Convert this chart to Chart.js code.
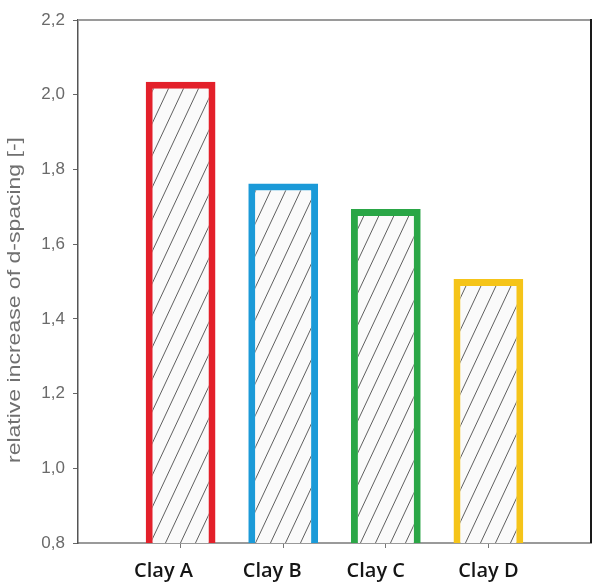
<!DOCTYPE html>
<html>
<head>
<meta charset="utf-8">
<title>Relative increase of d-spacing</title>
<script src="https://cdn.jsdelivr.net/npm/chart.js@4/dist/chart.umd.min.js"></script>
<style>
  html, body { margin: 0; padding: 0; background: #ffffff; }
  canvas { display: block; }
</style>
</head>
<body>
<canvas id="chart" width="594" height="583"></canvas>
<script>
// Samples and their measured relative increase of the basal d-spacing
const categories = ['Clay A', 'Clay B', 'Clay C', 'Clay D'];
const values = [2.035, 1.762, 1.694, 1.507];
const outlineColors = ['#e3202a', '#1b9ad8', '#2aa646', '#f5c419'];

// y axis range and step
const yMin = 0.8;
const yMax = 2.2;
const yStep = 0.2;

const canvas = document.getElementById('chart');
const ctx = canvas.getContext('2d');

// Diagonal hatching used to fill each bar
function makeHatch(context) {
  const w = 15, h = 32;
  const tile = document.createElement('canvas');
  tile.width = w;
  tile.height = h;
  const t = tile.getContext('2d');
  t.fillStyle = '#fafafa';
  t.fillRect(0, 0, w, h);
  t.strokeStyle = '#606060';
  t.lineWidth = 1;
  for (const k of [-1, 0, 1]) {
    t.beginPath();
    t.moveTo(k * w - w, 2 * h);
    t.lineTo(k * w + 2 * w, -h);
    t.stroke();
  }
  return context.createPattern(tile, 'repeat');
}
const hatch = makeHatch(ctx);

// Empty slots at both ends keep the bars away from the plot edges
const labels = [''].concat(categories, ['']);
const data = [null].concat(values, [null]);
const borders = ['#000'].concat(outlineColors, ['#000']);

// Horizontal nudge of each category caption relative to its tick (px)
const captionNudge = [-17, -11, -10, 0];

// Frame lines, category captions and the rotated y-axis caption
const framePlugin = {
  id: 'frame',
  afterDraw(chart) {
    const { ctx, chartArea } = chart;
    const xScale = chart.scales.x;
    ctx.save();
    ctx.strokeStyle = '#9a9a9a';
    ctx.lineWidth = 2;
    ctx.beginPath();
    ctx.moveTo(chartArea.left, chartArea.top);
    ctx.lineTo(chartArea.right, chartArea.top);
    ctx.stroke();
    ctx.strokeStyle = '#1a1a1a';
    ctx.beginPath();
    ctx.moveTo(chartArea.right, chartArea.top - 1);
    ctx.lineTo(chartArea.right, chartArea.bottom);
    ctx.stroke();

    ctx.fillStyle = '#151515';
    ctx.font = '600 20px "Open Sans", sans-serif';
    ctx.textAlign = 'center';
    ctx.textBaseline = 'alphabetic';
    categories.forEach((name, i) => {
      const x = xScale.getPixelForValue(i + 1) + captionNudge[i];
      ctx.fillText(name, x, chartArea.bottom + 34);
    });

    ctx.translate(15, 300);
    ctx.rotate(-Math.PI / 2);
    ctx.scale(1, 0.8);
    ctx.fillStyle = '#707070';
    ctx.font = '23px "Liberation Sans", Arial, sans-serif';
    ctx.textAlign = 'center';
    ctx.textBaseline = 'middle';
    ctx.fillText('relative increase of d-spacing [-]', 0, 0);
    ctx.restore();
  }
};

new Chart(ctx, {
  type: 'bar',
  data: {
    labels: labels,
    datasets: [{
      data: data,
      backgroundColor: hatch,
      borderColor: borders,
      borderWidth: 7,
      borderSkipped: false,
      barPercentage: 0.68,
      categoryPercentage: 1.0
    }]
  },
  options: {
    responsive: false,
    animation: false,
    devicePixelRatio: 1,
    layout: { padding: { top: 20, right: 2, left: 0, bottom: 0 } },
    plugins: {
      legend: { display: false },
      tooltip: { enabled: false }
    },
    scales: {
      x: {
        type: 'category',
        offset: false,
        grid: {
          display: true,
          offset: false,
          drawOnChartArea: false,
          drawTicks: true,
          tickLength: 5,
          tickColor: (c) => (c.index === 0 || c.index === labels.length - 1) ? 'rgba(0,0,0,0)' : '#777'
        },
        border: { display: true, color: '#9a9a9a', width: 2 },
        ticks: {
          autoSkip: false,
          maxRotation: 0,
          color: 'rgba(0,0,0,0)',
          font: { size: 20 }
        },
        afterFit(scale) { scale.height = 40; }
      },
      y: {
        min: yMin,
        max: yMax,
        grid: {
          display: true,
          drawOnChartArea: false,
          drawTicks: true,
          tickLength: 5,
          tickColor: '#666'
        },
        border: { display: true, color: '#555', width: 1.5 },
        ticks: {
          stepSize: yStep,
          padding: 8,
          color: '#6a6a6a',
          font: { family: '"Liberation Sans Narrow", "Liberation Sans", Arial, sans-serif', size: 17 },
          callback: (v) => v.toFixed(1).replace('.', ',')
        },
        afterFit(scale) { scale.width = 78; }
      }
    }
  },
  plugins: [framePlugin]
});
</script>
</body>
</html>
